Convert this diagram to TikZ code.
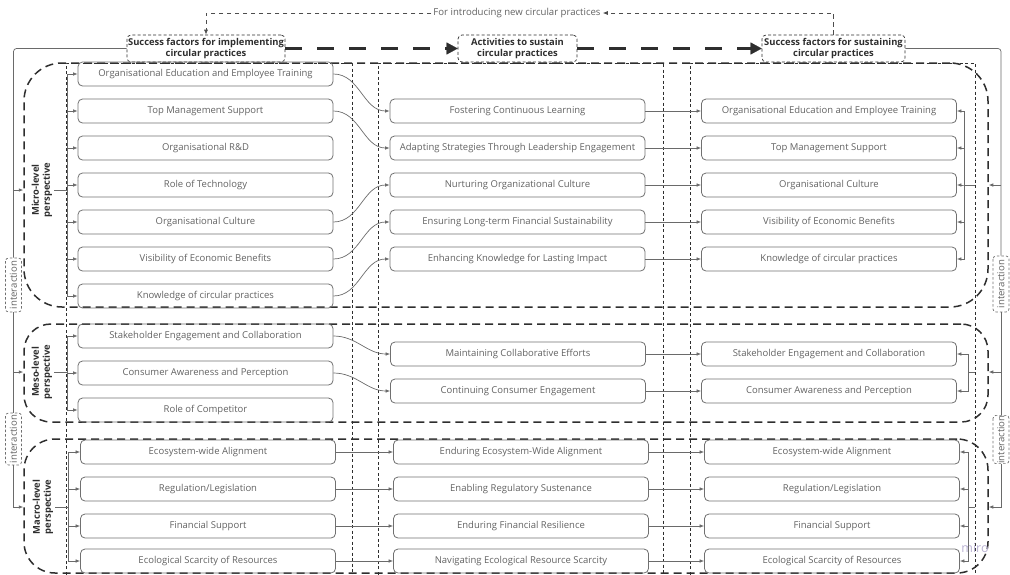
\documentclass[tikz,border=0pt]{standalone}
\usepackage{fontspec}
\setmainfont{Open Sans}
\usetikzlibrary{arrows.meta}

\definecolor{inkdark}{HTML}{2E2E2E}
\definecolor{boxedge}{HTML}{707070}
\definecolor{boxtxt}{HTML}{626262}
\definecolor{wirec}{HTML}{6A6A6A}
\definecolor{mirotint}{HTML}{B9B1D2}

\tikzset{
  item/.style={draw=boxedge, line width=0.8pt, rounded corners=4.5pt, minimum width=255pt,
    minimum height=24pt, inner sep=0pt, text=boxtxt, font=\fontsize{9.5}{11}\selectfont},
  headbox/.style={draw=inkdark, line width=0.7pt, dash pattern=on 3pt off 2.2pt, rounded corners=4pt,
    minimum height=27pt, inner sep=0pt, align=center, text=inkdark,
    font=\bfseries\fontsize{9.4}{11.5}\selectfont},
  level/.style={draw=inkdark, line width=1.5pt, dash pattern=on 8pt off 5pt, minimum width=964pt, inner sep=0pt},
  colframe/.style={draw=inkdark, line width=0.7pt, dash pattern=on 3pt off 2.5pt},
  persp/.style={rotate=90, align=center, text=inkdark, inner sep=2pt,
    font=\bfseries\fontsize{9.4}{11}\selectfont},
  ibox/.style={rotate=90, draw=boxedge, line width=0.7pt, dash pattern=on 2.5pt off 2pt, rounded corners=3pt,
    minimum height=16pt, inner sep=0pt, text=boxtxt, font=\fontsize{9.6}{10}\selectfont},
  wire/.style={draw=wirec, line width=0.7pt},
  tip/.style={-{Latex[length=4.5pt,width=3.6pt]}},
  fbline/.style={draw=inkdark!85, line width=0.7pt, dash pattern=on 4.5pt off 3.5pt,
    -{Latex[length=5pt,width=4pt]}},
  bigarrow/.style={draw=inkdark, line width=3.6pt, dash pattern=on 17pt off 15pt,
    -{Triangle[length=11pt,width=12pt,line width=0.1pt]}},
}

\begin{document}
\begin{tikzpicture}[x=1pt,y=-1pt]
\useasboundingbox (0,0) rectangle (1010,574);
\clip (0,0) rectangle (1010,574);

% column frames
\foreach \l/\r in {66/352, 378/663, 690/975}
  \draw[colframe] (\l,580) -- (\l,63) -- (\r,63) -- (\r,580);

% level frames
\node[level, minimum height=244pt, rounded corners=38pt] (microblk) at (506,185) {};
\node[level, minimum height=98pt, rounded corners=27pt] (mesoblk) at (506,373) {};
\node[level, minimum height=134pt, rounded corners=31pt] (macroblk) at (506,506) {};

% column headers
\node[headbox, minimum width=158pt] (hd1) at (206,48.5) {Success factors for implementing\\circular practices};
\node[headbox, minimum width=119pt] (hd2) at (517.5,48.5) {Activities to sustain\\circular practices};
\node[headbox, minimum width=143pt] (hd3) at (833.5,48.5) {Success factors for sustaining\\circular practices};
\node[text=boxtxt, font=\fontsize{9.6}{10}\selectfont, inner sep=2pt] (fb) at (517,13) {For introducing new circular practices};

% perspective labels
\node[persp] (ml) at (42,190) {Micro-level\\perspective};
\node[persp] (sl) at (42,372) {Meso-level\\perspective};
\node[persp] (gl) at (43,507) {Macro-level\\perspective};

% interaction tags
\node[ibox, minimum width=54pt] (ia1) at (13.5,285) {interaction};
\node[ibox, minimum width=52pt] (ia2) at (13.5,439) {interaction};
\node[ibox, minimum width=56pt] (ib1) at (1001,284) {interaction};
\node[ibox, minimum width=46pt] (ib2) at (1001,439.5) {interaction};

% micro level
\node[item] (a1) at (205.5,74)  {Organisational Education and Employee Training};
\node[item] (a2) at (205.5,111) {Top Management Support};
\node[item] (a3) at (205.5,148) {Organisational R\&D};
\node[item] (a4) at (205.5,185) {Role of Technology};
\node[item] (a5) at (205.5,222) {Organisational Culture};
\node[item] (a6) at (205.5,259) {Visibility of Economic Benefits};
\node[item] (a7) at (205.5,296) {Knowledge of circular practices};

\node[item] (b1) at (517.5,111) {Fostering Continuous Learning};
\node[item] (b2) at (517.5,148) {Adapting Strategies Through Leadership Engagement};
\node[item] (b3) at (517.5,185) {Nurturing Organizational Culture};
\node[item] (b4) at (517.5,222) {Ensuring Long-term Financial Sustainability};
\node[item] (b5) at (517.5,259) {Enhancing Knowledge for Lasting Impact};

\node[item] (c1) at (829,111) {Organisational Education and Employee Training};
\node[item] (c2) at (829,148) {Top Management Support};
\node[item] (c3) at (829,185) {Organisational Culture};
\node[item] (c4) at (829,222) {Visibility of Economic Benefits};
\node[item] (c5) at (829,259) {Knowledge of circular practices};

% meso level
\node[item] (d1) at (205.5,336) {Stakeholder Engagement and Collaboration};
\node[item] (d2) at (205.5,373) {Consumer Awareness and Perception};
\node[item] (d3) at (205.5,410) {Role of Competitor};

\node[item] (e1) at (518,354) {Maintaining Collaborative Efforts};
\node[item] (e2) at (518,391) {Continuing Consumer Engagement};

\node[item] (f1) at (829,354) {Stakeholder Engagement and Collaboration};
\node[item] (f2) at (829,391) {Consumer Awareness and Perception};

% macro level
\node[item] (g1) at (208,452) {Ecosystem-wide Alignment};
\node[item] (g2) at (208,489) {Regulation/Legislation};
\node[item] (g3) at (208,526) {Financial Support};
\node[item] (g4) at (208,561) {Ecological Scarcity of Resources};

\node[item] (k1) at (521,452) {Enduring Ecosystem-Wide Alignment};
\node[item] (k2) at (521,489) {Enabling Regulatory Sustenance};
\node[item] (k3) at (521,526) {Enduring Financial Resilience};
\node[item] (k4) at (521,561) {Navigating Ecological Resource Scarcity};

\node[item] (m1) at (832,452) {Ecosystem-wide Alignment};
\node[item] (m2) at (832,489) {Regulation/Legislation};
\node[item] (m3) at (832,526) {Financial Support};
\node[item] (m4) at (832,561) {Ecological Scarcity of Resources};

\node[text=mirotint, font=\fontsize{12.5}{13}\selectfont, inner sep=0pt] (wm) at (975,548) {miro};

% flow between column headers
\draw[bigarrow] (hd1.east) -- (hd2.west);
\draw[bigarrow] (hd2.east) -- (hd3.west);
\draw[fbline] (hd3.north) |- (fb.east);
\draw[fbline] (fb.west) -| (hd1.north);

% outer interaction wires
\coordinate (lb1) at (67,190);
\coordinate (lb2) at (67,372);
\coordinate (lb3) at (68,507);
\coordinate (rs1) at (975,185);
\coordinate (rs2) at (975,372);
\coordinate (rs3) at (975,507);
\coordinate (rb1) at (964,185);
\coordinate (rb2) at (968,372);
\coordinate (rb3) at (968,507);

\draw[wire, rounded corners=3pt] (hd1.west) -| (ia1.east);
\draw[wire, tip] (ia1.east |- lb1) -- (lb1 -| microblk.west);
\draw[wire] (ia1.west) -- (ia2.east);
\draw[wire, tip] (ia1.west |- lb2) -- (lb2 -| mesoblk.west);
\draw[wire, tip] (ia2.west) |- (lb3 -| macroblk.west);

\draw[wire, rounded corners=3pt] (hd3.east) -| (ib1.east);
\draw[wire, tip] (ib1.east |- rs1) -- (rs1 -| microblk.east);
\draw[wire] (ib1.west) -- (ib2.east);
\draw[wire, tip] (ib1.west |- rs2) -- (rs2 -| mesoblk.east);
\draw[wire, tip] (ib2.west) |- (rs3 -| macroblk.east);

% perspective brackets into the first column
\foreach \n in {a1,a2,a3,a4,a5,a6,a7} \draw[wire, tip] (ml.south) -- (lb1) |- (\n.west);
\foreach \n in {d1,d2,d3} \draw[wire, tip] (sl.south) -- (lb2) |- (\n.west);
\foreach \n in {g1,g2,g3,g4} \draw[wire, tip] (gl.south) -- (lb3) |- (\n.west);

% brackets into the last column
\foreach \n in {c1,c2,c3,c4,c5} \draw[wire, tip] (rs1) -- (rb1) |- (\n.east);
\foreach \n in {f1,f2} \draw[wire, tip] (rs2) -- (rb2) |- (\n.east);
\foreach \n in {m1,m2,m3,m4} \draw[wire, tip] (rs3) -- (rb3) |- (\n.east);

% factor to activity links
\draw[wire, tip] (a1.east) to[out=0,in=180] (b1.west);
\draw[wire, tip] (a2.east) to[out=0,in=180] (b2.west);
\draw[wire, tip] (a5.east) to[out=0,in=180] (b3.west);
\draw[wire, tip] (a6.east) to[out=0,in=180] (b4.west);
\draw[wire, tip] (a7.east) to[out=0,in=180] (b5.west);
\draw[wire, tip] (d1.east) to[out=0,in=180] (e1.west);
\draw[wire, tip] (d2.east) to[out=0,in=180] (e2.west);
\foreach \i in {1,2,3,4} \draw[wire, tip] (g\i.east) -- (k\i.west);

% activity to sustained factor links
\foreach \i in {1,2,3,4,5} \draw[wire, tip] (b\i.east) -- (c\i.west);
\foreach \i in {1,2} \draw[wire, tip] (e\i.east) -- (f\i.west);
\foreach \i in {1,2,3,4} \draw[wire, tip] (k\i.east) -- (m\i.west);
\end{tikzpicture}
\end{document}
